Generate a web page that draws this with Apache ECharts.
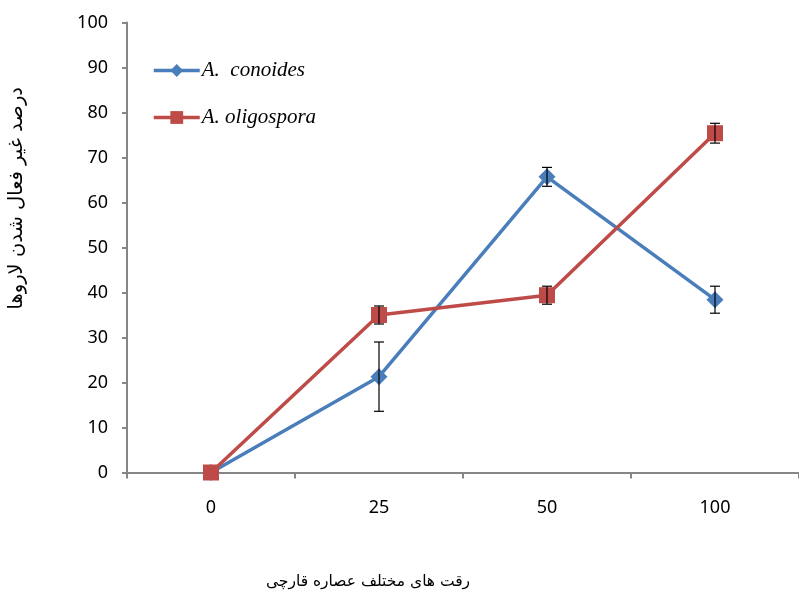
<!DOCTYPE html>
<html><head><meta charset="utf-8">
<script src="https://cdn.jsdelivr.net/npm/echarts@6/dist/echarts.min.js"></script>
<style>html,body{margin:0;padding:0;background:#fff}#c{width:799px;height:598px}</style>
</head><body><div id="c"></div>
<script>
var categories = ['0', '25', '50', '100'];
var conoides = [0, 21.3, 65.7, 38.4];
var conoidesErr = [0, 7.7, 2.1, 3.0];
var oligospora = [0, 35.0, 39.4, 75.4];
var oligosporaErr = [0, 2.0, 2.0, 2.2];
var yTicks = [0, 10, 20, 30, 40, 50, 60, 70, 80, 90, 100];
var seriesNames = ['A.  conoides', 'A. oligospora'];
var yTitle = 'درصد غیر فعال شدن لاروها';
var xTitle = 'رقت های مختلف عصاره قارچی';

function errData(vals, errs) {
  return vals.map(function (v, i) { return [i, v - errs[i], v + errs[i]]; });
}
function errRender(params, api) {
  var x = api.value(0);
  var lo = api.coord([x, api.value(1)]);
  var hi = api.coord([x, api.value(2)]);
  if (Math.abs(hi[1] - lo[1]) < 0.5) return null;
  var w = 5;
  var st = { stroke: '#000', lineWidth: 1.2 };
  return { type: 'group', children: [
    { type: 'line', shape: { x1: lo[0], y1: lo[1], x2: hi[0], y2: hi[1] }, style: st },
    { type: 'line', shape: { x1: lo[0] - w, y1: lo[1], x2: lo[0] + w, y2: lo[1] }, style: st },
    { type: 'line', shape: { x1: hi[0] - w, y1: hi[1], x2: hi[0] + w, y2: hi[1] }, style: st }
  ]};
}

var chart = echarts.init(document.getElementById('c'), null, { renderer: 'canvas' });
var axisCol = '#868686';
chart.setOption({
  animation: false,
  grid: { left: 127, top: 22.5, width: 676, height: 450, containLabel: false },
  legend: {
    orient: 'vertical', left: 147, top: 55, itemGap: 26, itemWidth: 46, itemHeight: 16,
    data: seriesNames,
    lineStyle: { width: 3.5 },
    textStyle: { fontFamily: 'Liberation Serif', fontStyle: 'italic', fontSize: 21, color: '#000', padding: [0, 0, 0, -3] }
  },
  xAxis: {
    type: 'category', data: categories, boundaryGap: true,
    axisLine: { lineStyle: { color: axisCol, width: 2 } },
    axisTick: { show: true, length: 6, lineStyle: { color: axisCol, width: 2 } },
    axisLabel: { margin: 26, fontFamily: 'Noto Sans', fontSize: 18, color: '#000' },
    splitLine: { show: false }
  },
  yAxis: {
    type: 'value', min: 0, max: 100, interval: 10,
    axisLine: { show: true, lineStyle: { color: axisCol, width: 2 } },
    axisTick: { show: true, length: 5, lineStyle: { color: axisCol, width: 2 } },
    axisLabel: { margin: 19, fontFamily: 'Noto Sans', fontSize: 18, color: '#000',
      formatter: function (v) { return yTicks.indexOf(v) >= 0 ? String(v) : ''; } },
    splitLine: { show: false }
  },
  graphic: [
    { type: 'text', left: 7, top: 87, rotation: Math.PI / 2,
      style: { text: yTitle, font: '19.5px "DejaVu Sans"', fill: '#000' } },
    { type: 'text', x: 368, y: 574,
      style: { text: xTitle, font: '15.5px "DejaVu Sans"', fill: '#000', textAlign: 'center' } }
  ],
  series: [
    { name: seriesNames[0], type: 'line', data: conoides, symbol: 'diamond', symbolSize: 17,
      lineStyle: { color: '#4a7ebb', width: 3.5 }, itemStyle: { color: '#4a7ebb' }, z: 3 },
    { name: seriesNames[1], type: 'line', data: oligospora, symbol: 'rect', symbolSize: 16,
      lineStyle: { color: '#be4b48', width: 3.5 }, itemStyle: { color: '#be4b48' }, z: 4 },
    { type: 'custom', data: errData(conoides, conoidesErr), renderItem: errRender, z: 5, silent: true },
    { type: 'custom', data: errData(oligospora, oligosporaErr), renderItem: errRender, z: 5, silent: true }
  ]
});
</script></body></html>
